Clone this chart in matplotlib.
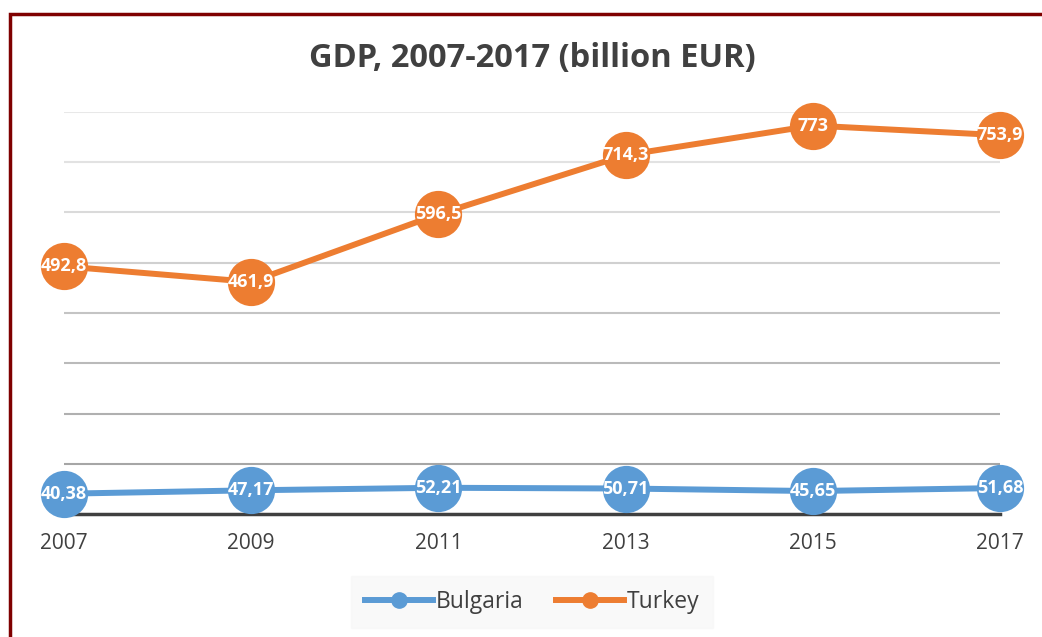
import matplotlib
matplotlib.use("Agg")
import matplotlib.pyplot as plt
from matplotlib.patches import Rectangle

plt.rcParams['font.family'] = ['Open Sans', 'DejaVu Sans']

years = ['2007', '2009', '2011', '2013', '2015', '2017']
bulgaria = [40.38, 47.17, 52.21, 50.71, 45.65, 51.68]
turkey = [492.8, 461.9, 596.5, 714.3, 773, 753.9]
bulgaria_labels = ['40,38', '47,17', '52,21', '50,71', '45,65', '51,68']
turkey_labels = ['492,8', '461,9', '596,5', '714,3', '773', '753,9']
grid_vals = [100, 200, 300, 400, 500, 600, 700, 800]

blue = '#5B9BD5'
orange = '#ED7D31'
text_col = '#404040'

fig = plt.figure(figsize=(10.42, 6.37), dpi=100)
ax = fig.add_axes([64/1042, 1-514/637, 936/1042, 402/637])

# frame of the chart area (dark red, left + top)
fig.patches.append(Rectangle((10/1042, -0.1), 1.2, 1-14/637+0.1, transform=fig.transFigure,
                             fill=False, edgecolor='#7f0000', linewidth=2.5, clip_on=False))

# gridlines get darker towards the bottom
grid_cols = ['#a6a6a6', '#b0b0b0', '#bababa', '#c4c4c4', '#d0d0d0', '#dadada', '#e2e2e2', '#e8e8e8']
for v, c in zip(grid_vals, grid_cols):
    ax.axhline(v, color=c, linewidth=1.5, zorder=0)

x = list(range(len(years)))
ax.plot(x, bulgaria, color=blue, linewidth=4.3, marker='o', markersize=34,
        markeredgewidth=0, label='Bulgaria', zorder=3, clip_on=False)
ax.plot(x, turkey, color=orange, linewidth=4.3, marker='o', markersize=34,
        markeredgewidth=0, label='Turkey', zorder=3, clip_on=False)

for xi, yi, t in zip(x, bulgaria, bulgaria_labels):
    ax.text(xi, yi, t, color='white', fontweight='bold', fontsize=13,
            ha='center', va='center', zorder=4)
for xi, yi, t in zip(x, turkey, turkey_labels):
    ax.text(xi, yi, t, color='white', fontweight='bold', fontsize=13,
            ha='center', va='center', zorder=4)

ax.set_xlim(0, len(years)-1)
ax.set_ylim(0, 800)
ax.set_xticks(x)
ax.set_xticklabels(years, fontsize=15, color=text_col)
ax.set_yticks([])
ax.tick_params(axis='x', length=0, pad=14)
for s in ['top', 'right', 'left']:
    ax.spines[s].set_visible(False)
ax.spines['bottom'].set_color(text_col)
ax.spines['bottom'].set_linewidth(2.5)
ax.spines['bottom'].set_zorder(2)

fig.text(532/1042, 1-58/637, 'GDP, 2007-2017 (billion EUR)', ha='center', va='center',
         fontsize=23.5, fontweight='bold', color=text_col)

handles = [plt.Line2D([], [], color=blue, linewidth=4.3, marker='o', markersize=11),
           plt.Line2D([], [], color=orange, linewidth=4.3, marker='o', markersize=11)]
leg = fig.legend(handles, ['Bulgaria', 'Turkey'], loc='center', bbox_to_anchor=(532/1042, 1-602/637),
                 ncol=2, frameon=True, fontsize=16.5, handlelength=3.0, handletextpad=0.1,
                 columnspacing=1.4, borderpad=0.6)
leg.get_frame().set_facecolor('#f8f8f8')
leg.get_frame().set_edgecolor('#f8f8f8')
leg.get_frame().set_boxstyle('square', pad=0)
for t in leg.get_texts():
    t.set_color(text_col)

fig.savefig('out.png', dpi=100)
